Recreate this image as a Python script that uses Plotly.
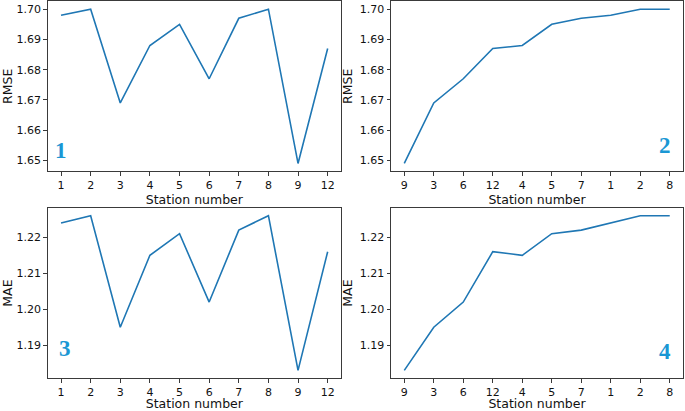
import plotly.graph_objects as go

stations = ["1", "2", "3", "4", "5", "6", "7", "8", "9", "12"]
rmse = [1.698, 1.700, 1.669, 1.688, 1.695, 1.677, 1.697, 1.700, 1.649, 1.687]
mae = [1.224, 1.226, 1.195, 1.215, 1.221, 1.202, 1.222, 1.226, 1.183, 1.216]

rmse_sorted_stations = ["9", "3", "6", "12", "4", "5", "7", "1", "2", "8"]
rmse_sorted = [1.649, 1.669, 1.677, 1.687, 1.688, 1.695, 1.697, 1.698, 1.700, 1.700]
mae_sorted_stations = ["9", "3", "6", "12", "4", "5", "7", "1", "2", "8"]
mae_sorted = [1.183, 1.195, 1.202, 1.216, 1.215, 1.221, 1.222, 1.224, 1.226, 1.226]

panel_labels = ["1", "2", "3", "4"]

W, H = 685, 411
LINE = "#1f77b4"
FRAME = "#3a3a3a"
FONT = "DejaVu Sans"

fig = go.Figure()
series = [
    (stations, rmse, "x", "y"),
    (rmse_sorted_stations, rmse_sorted, "x2", "y2"),
    (stations, mae, "x3", "y3"),
    (mae_sorted_stations, mae_sorted, "x4", "y4"),
]
for xs, ys, xa, ya in series:
    fig.add_trace(go.Scatter(x=xs, y=ys, mode="lines", xaxis=xa, yaxis=ya,
                             line=dict(color=LINE, width=1.6), showlegend=False))

def px(v):
    return v / W

def py(v):
    return 1 - v / H

xdom_l = [px(47.7), px(341)]
xdom_r = [px(391), px(683)]
ydom_t = [py(171), py(0.5)]
ydom_b = [py(379), py(208)]

def xaxis(dom, anchor, order):
    return dict(domain=dom, anchor=anchor, type="category", categoryorder="array",
                categoryarray=order, range=[-0.45, len(order) - 0.55],
                showline=True, mirror=True, linecolor=FRAME, linewidth=1,
                ticks="outside", ticklen=3.5, tickcolor=FRAME, tickwidth=1,
                showgrid=False, zeroline=False,
                tickfont=dict(family=FONT, size=11, color="#111"),
                title=dict(text="Station number", font=dict(family=FONT, size=12.5, color="#111"),
                           standoff=3))

def yaxis(dom, anchor, rng, title):
    return dict(domain=dom, anchor=anchor, range=rng, dtick=0.01, tick0=1.0,
                tickformat=".2f",
                showline=True, mirror=True, linecolor=FRAME, linewidth=1,
                ticks="outside", ticklen=3.5, tickcolor=FRAME, tickwidth=1,
                showgrid=False, zeroline=False,
                tickfont=dict(family=FONT, size=11, color="#111"),
                title=dict(text=title, font=dict(family=FONT, size=12.5, color="#111"),
                           standoff=4))

def pad(vals):
    lo, hi = min(vals), max(vals)
    m = (hi - lo) * 0.05
    return [lo - m, hi + m]

fig.update_layout(
    width=W, height=H, margin=dict(l=0, r=0, t=0, b=0),
    paper_bgcolor="white", plot_bgcolor="white",
    xaxis=xaxis(xdom_l, "y", stations),
    xaxis2=xaxis(xdom_r, "y2", rmse_sorted_stations),
    xaxis3=xaxis(xdom_l, "y3", stations),
    xaxis4=xaxis(xdom_r, "y4", mae_sorted_stations),
    yaxis=yaxis(ydom_t, "x", pad(rmse), "RMSE"),
    yaxis2=yaxis(ydom_t, "x2", pad(rmse_sorted), "RMSE"),
    yaxis3=yaxis(ydom_b, "x3", pad(mae), "MAE"),
    yaxis4=yaxis(ydom_b, "x4", pad(mae_sorted), "MAE"),
)

label_pos = [("x domain", "y domain", 0.044, 0.123),
             ("x2 domain", "y2 domain", 0.938, 0.152),
             ("x3 domain", "y3 domain", 0.059, 0.175),
             ("x4 domain", "y4 domain", 0.938, 0.158)]
for lab, (xr, yr, x, y) in zip(panel_labels, label_pos):
    fig.add_annotation(xref=xr, yref=yr, x=x, y=y, text="<b>" + lab + "</b>",
                       showarrow=False, xanchor="center", yanchor="middle",
                       font=dict(family="Liberation Serif", size=23, color="#1a97d4"))

fig.write_html("out.html", config={"displayModeBar": False},
               post_script="document.body.style.margin='0';document.body.style.overflow='hidden';")
